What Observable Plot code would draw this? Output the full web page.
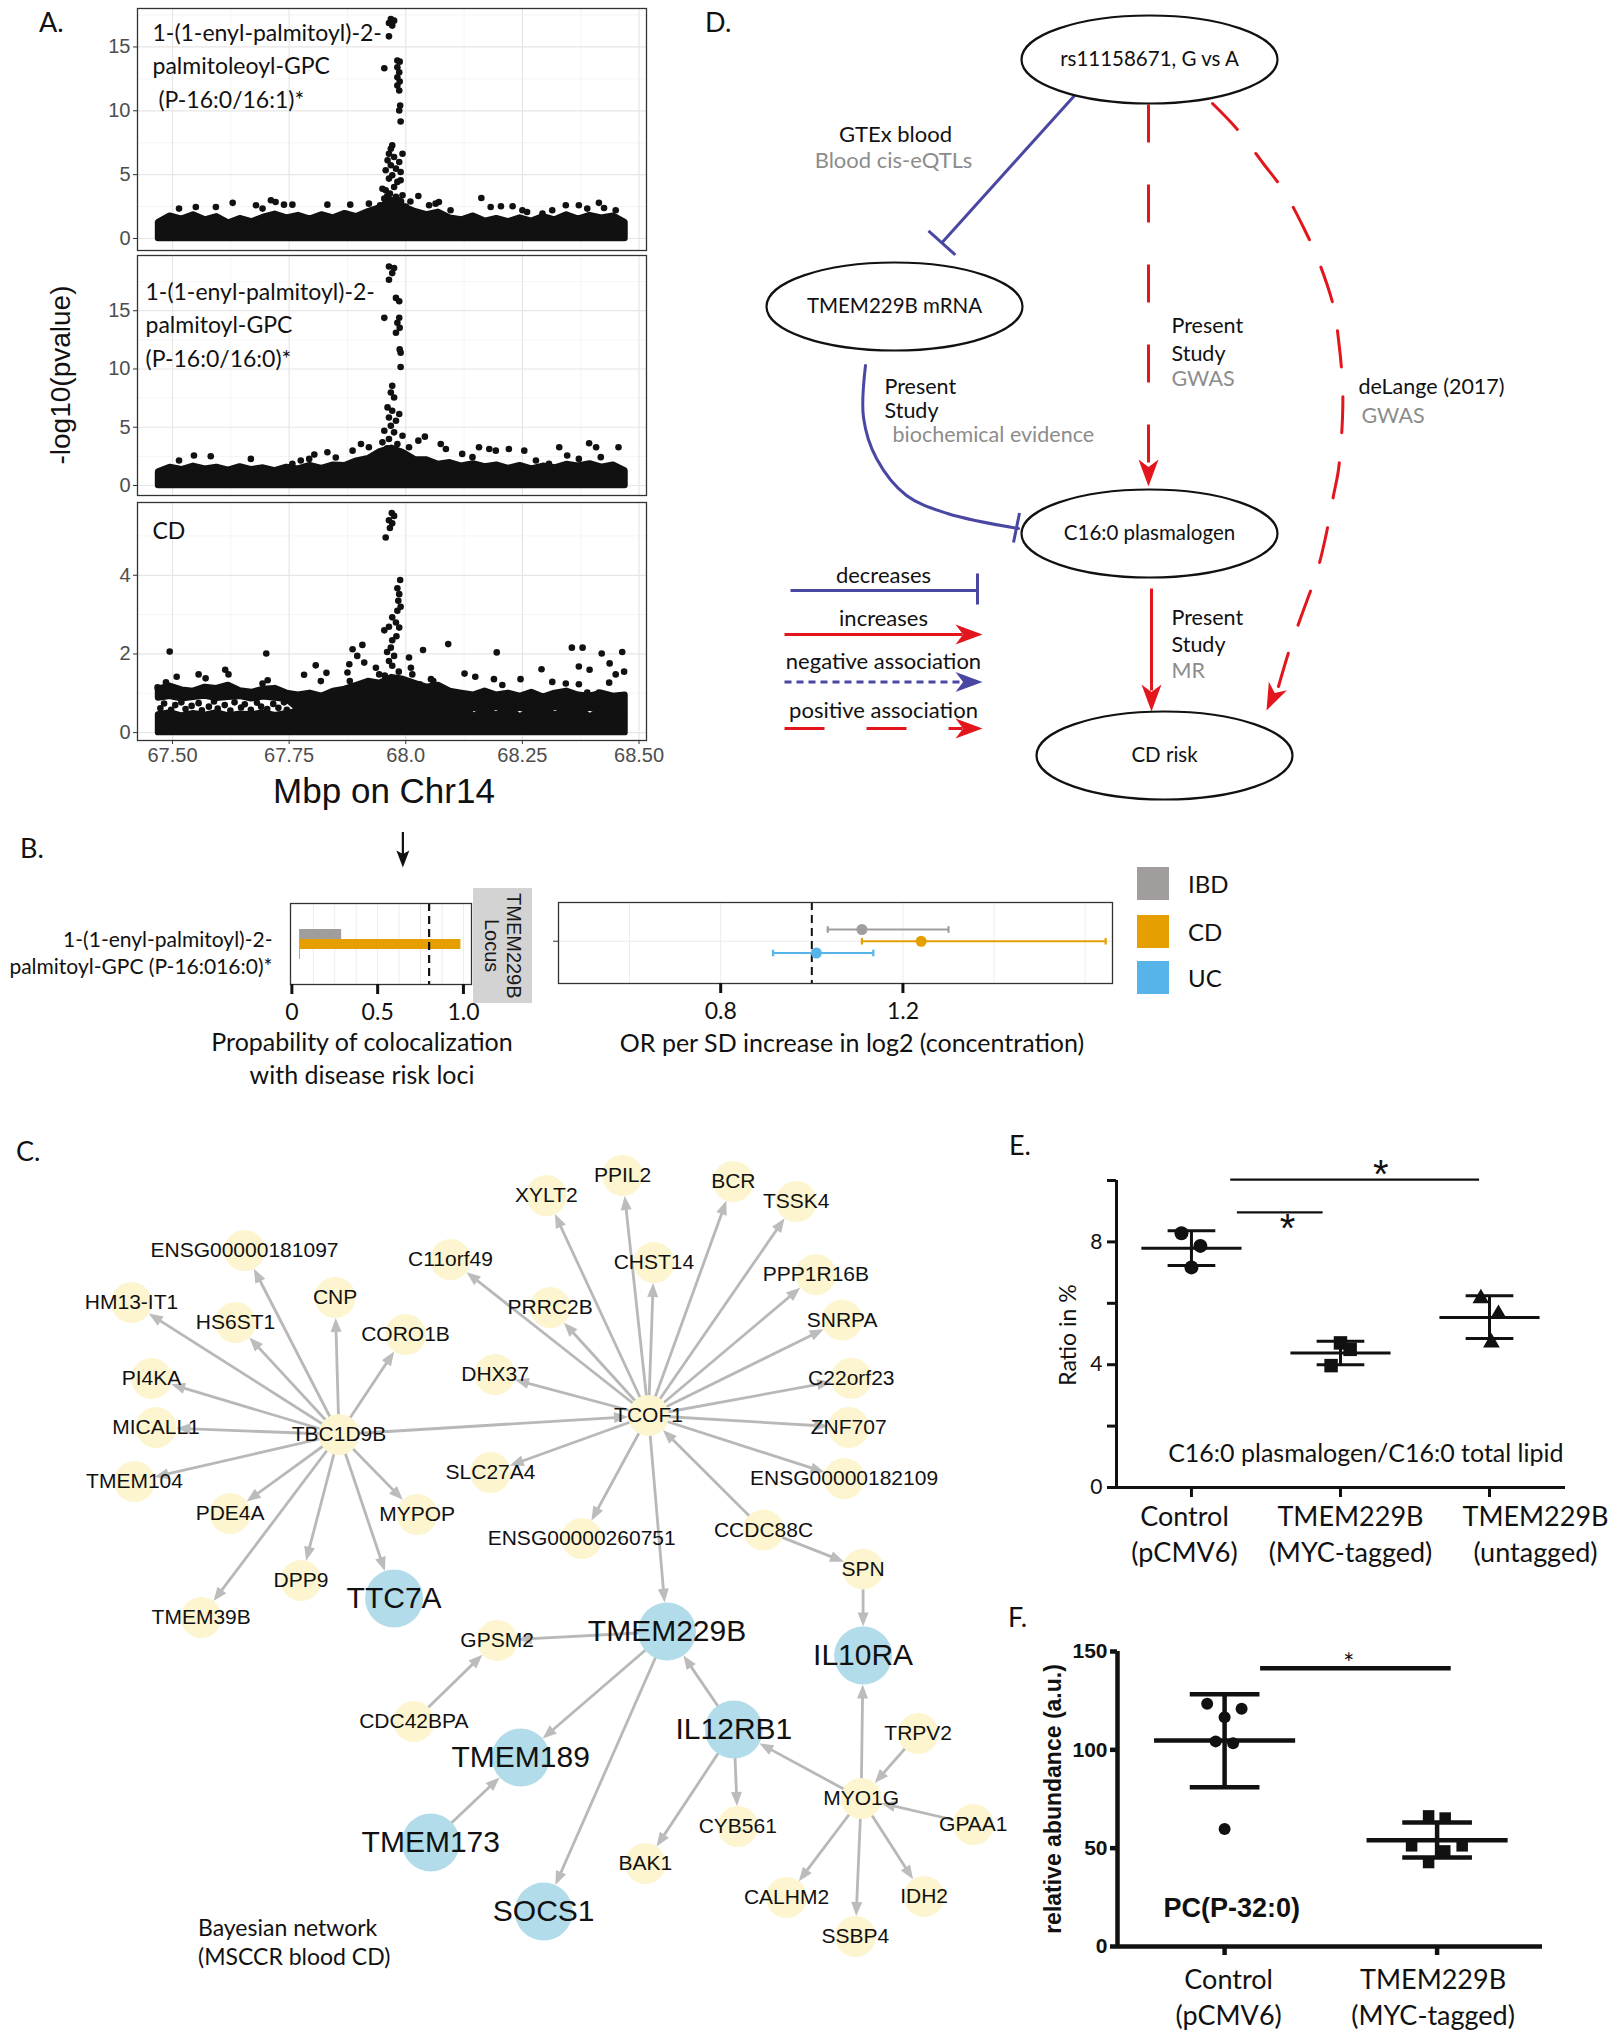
<!DOCTYPE html>
<html>
<head>
<meta charset="utf-8">
<script src="https://cdn.jsdelivr.net/npm/d3@7"></script>
<script src="https://cdn.jsdelivr.net/npm/@observablehq/plot@0.6"></script>
<style>
html, body { margin: 0; padding: 0; background: #ffffff; }
#root { position: relative; width: 1611px; height: 2040px; overflow: hidden; background: #ffffff; }
</style>
</head>
<body>
<div id="root"></div>
<script>
// ======================= DATA =======================
// ---- Panel A : -log10(p) along Chr14 ----
const aXTicks = [67.5, 67.75, 68.0, 68.25, 68.5];
const aXTickLabels = ["67.50", "67.75", "68.0", "68.25", "68.50"];
const aXMinor = [67.625, 67.875, 68.125, 68.375];
const aPanelLabels = [
  "1-(1-enyl-palmitoyl)-2-\npalmitoleoyl-GPC\n\u00a0(P-16:0/16:1)*",
  "1-(1-enyl-palmitoyl)-2-\npalmitoyl-GPC\n(P-16:0/16:0)*",
  "CD"
];
// x positions of the saturated (overplotted) band of SNPs
const aBandX = [67.470,67.495,67.520,67.545,67.570,67.595,67.620,67.645,67.670,67.695,67.720,67.745,67.770,67.795,67.820,67.845,67.870,67.895,67.920,67.945,67.970,67.995,68.020,68.045,68.070,68.095,68.120,68.145,68.170,68.195,68.220,68.245,68.270,68.295,68.320,68.345,68.370,68.395,68.420,68.445,68.470];
const aTopBand = [1.25,1.75,1.50,1.85,1.45,1.70,1.20,1.55,1.30,1.65,1.90,1.60,1.80,1.50,1.85,1.60,1.95,1.70,2.10,2.40,3.00,2.50,2.10,1.85,2.05,1.60,1.45,1.75,1.35,1.55,1.30,1.60,1.35,1.70,1.45,1.85,1.50,1.80,1.60,1.75,1.25];
const aMidBand = [1.15,1.55,1.35,1.65,1.40,1.55,1.30,1.60,1.35,1.50,1.25,1.55,1.40,1.70,1.45,1.75,1.70,2.10,2.30,2.90,3.20,2.80,2.20,2.20,1.80,1.95,1.65,1.85,1.60,1.75,1.45,1.70,1.40,1.65,1.50,1.80,1.65,1.85,1.55,1.75,1.25];
const aCdLowTop = [0.45,0.50,0.42,0.48,0.44,0.50,0.42,0.47,0.45,0.50,0.43,0.48,0.55,0.60,0.60,0.65,0.70,0.80,0.80,0.80,0.80,0.80,0.80,0.80,0.80,0.80,0.80,0.40,0.55,0.45,0.60,0.40,0.55,0.60,0.45,0.55,0.60,0.40,0.55,0.60,0.50];
const aCdUpBottom = [0.88,0.92,0.86,0.90,0.93,0.87,0.90,0.92,0.86,0.91,0.88,0.85,0.60,0.60,0.60,0.60,0.60,0.60,0.60,0.60,0.60,0.60,0.60,0.60,0.60,0.60,0.60,0.62,0.55,0.65,0.55,0.62,0.55,0.55,0.65,0.55,0.55,0.62,0.55,0.55,0.55];
const aCdUpTop = [1.10,1.18,1.08,1.05,1.15,1.12,1.20,1.06,1.02,1.10,1.12,1.00,0.95,1.00,0.92,1.05,1.10,1.20,1.30,1.25,1.40,1.35,1.25,1.15,1.20,1.05,1.00,0.95,1.05,0.95,1.00,0.92,1.02,0.90,1.00,1.05,0.95,0.92,1.00,0.92,0.95];
const aTopPts = [[67.968,17.18],[67.975,17.06],[67.964,16.87],[67.971,16.67],[67.964,15.83],[67.982,13.93],[67.987,13.85],[67.954,13.33],[67.982,13.41],[67.986,13.02],[67.982,12.62],[67.987,12.29],[67.982,11.98],[67.986,11.59],[67.988,10.42],[67.986,10.02],[67.989,9.16],[67.971,7.29],[67.968,7.03],[67.964,6.64],[67.993,6.64],[67.975,6.38],[67.961,6.12],[67.986,5.99],[67.968,5.73],[67.979,5.47],[67.957,5.34],[67.989,5.21],[67.971,4.95],[67.964,4.69],[67.982,4.43],[67.989,4.56],[67.975,4.03],[67.957,3.77],[67.966,3.51],[67.979,3.26],[67.954,3.12],[67.964,2.86],[67.975,2.60],[67.993,3.38],[68.027,3.33],[68.162,3.17],[67.629,2.79],[67.711,2.99],[67.721,2.86],[67.739,2.65],[67.757,2.65],[67.832,2.65],[67.881,2.65],[67.921,2.73],[68.182,2.47],[68.204,2.52],[68.229,2.52],[68.343,2.60],[68.371,2.60],[68.414,2.79],[68.389,2.34],[68.425,2.39],[68.096,2.21],[68.293,1.95],[68.050,2.60],[68.064,2.73],[68.071,2.86],[67.514,2.34],[67.550,2.47],[67.593,2.47],[67.679,2.60],[67.693,2.34],[68.250,2.21],[68.260,2.08],[68.314,2.21],[68.450,2.21],[67.950,3.90],[67.960,3.30],[67.985,3.00],[67.970,2.70],[67.990,2.90],[67.945,2.60],[68.000,2.50],[68.010,2.90]];
const aMidPts = [[67.964,18.80],[67.975,18.66],[67.971,18.23],[67.964,17.66],[67.979,16.10],[67.986,15.81],[67.954,14.39],[67.986,14.39],[67.982,13.96],[67.987,13.53],[67.979,13.11],[67.987,11.68],[67.989,11.40],[67.989,10.17],[67.971,8.55],[67.968,7.98],[67.975,7.55],[67.961,6.70],[67.971,6.41],[67.986,6.13],[67.964,5.84],[67.979,5.56],[67.968,5.13],[67.954,4.70],[67.975,4.56],[67.993,4.27],[67.964,3.99],[67.982,3.56],[67.950,3.70],[68.041,4.19],[68.027,3.85],[68.075,3.56],[68.086,3.13],[67.904,3.56],[67.804,2.65],[67.832,2.85],[67.850,2.40],[68.157,3.28],[68.179,3.13],[68.193,2.99],[68.221,3.13],[68.254,2.99],[68.329,3.28],[68.393,3.62],[68.408,3.28],[68.456,3.28],[68.346,2.57],[68.371,2.28],[68.418,2.43],[67.546,2.57],[67.582,2.51],[67.514,2.14],[67.668,2.28],[67.757,1.86],[67.775,2.14],[67.793,2.28],[67.886,2.99],[67.921,3.28],[68.007,3.28],[68.121,2.71],[68.143,2.43],[68.279,2.14],[68.307,1.86],[67.960,3.20],[67.990,2.90],[67.945,2.80],[67.970,2.60],[68.000,2.60]];
const aCdPts = [[67.970,5.58],[67.975,5.51],[67.964,5.40],[67.971,5.32],[67.966,5.20],[67.957,4.96],[67.988,3.88],[67.982,3.67],[67.986,3.52],[67.984,3.35],[67.989,3.20],[67.982,3.10],[67.971,2.93],[67.979,2.80],[67.986,2.67],[67.954,2.60],[67.964,2.69],[67.971,2.35],[67.968,2.16],[67.975,1.95],[67.964,1.82],[67.971,1.70],[67.980,2.45],[67.960,2.05],[67.985,1.55],[67.955,1.45],[67.907,2.23],[67.886,2.12],[67.896,1.95],[67.911,1.78],[67.879,1.74],[67.875,1.53],[67.880,1.31],[67.884,1.14],[67.877,0.98],[67.914,1.20],[67.921,0.90],[67.936,1.65],[67.943,1.48],[68.007,1.91],[68.011,1.65],[68.014,1.48],[68.037,2.10],[68.091,2.25],[68.195,2.04],[67.494,2.06],[67.701,2.01],[68.356,2.16],[68.379,2.16],[68.420,2.01],[68.464,2.05],[68.371,1.68],[68.394,1.60],[68.437,1.76],[68.450,1.48],[68.468,1.55],[67.613,1.60],[67.620,1.48],[67.556,1.48],[67.509,1.42],[67.571,1.38],[67.782,1.47],[67.807,1.71],[67.830,1.52],[67.818,1.31],[68.126,1.50],[68.149,1.42],[68.189,1.36],[68.291,1.61],[68.343,1.25],[68.314,1.29],[68.246,1.36],[68.207,1.21],[68.054,1.36],[68.059,1.31],[68.030,1.23],[68.068,1.02],[67.693,1.25],[67.704,1.33],[67.714,1.00],[67.486,1.28],[67.468,1.15],[68.436,1.27],[68.414,1.02],[68.400,0.94],[68.429,0.81],[68.371,1.23],[68.389,1.02],[67.474,0.62],[67.482,0.74],[67.497,0.58],[67.506,0.70],[67.519,0.77],[67.528,0.60],[67.541,0.68],[67.556,0.75],[67.563,0.57],[67.578,0.66],[67.589,0.79],[67.597,0.61],[67.612,0.70],[67.624,0.56],[67.633,0.77],[67.647,0.64],[67.655,0.72],[67.668,0.58],[67.681,0.76],[67.690,0.66],[67.703,0.60],[67.716,0.73],[67.727,0.63],[67.739,0.77],[67.745,0.58]];

// ---- Panel B ----
const bGroups = ["IBD", "CD", "UC"];
const bColors = ["#a19d9d", "#e69f00", "#56b4e9"];
const bColocStart = 0.045;
const bColoc = [0.29, 0.985, 0.05];
const bThreshold = 0.8;
const bOR = [1.11, 1.24, 1.01];
const bLo = [1.035, 1.11, 0.915];
const bHi = [1.30, 1.645, 1.135];
const bRowLabel = "1-(1-enyl-palmitoyl)-2-\npalmitoyl-GPC (P-16:016:0)*";
const bLeftTicks = [0, 0.5, 1.0];
const bLeftTickLabels = ["0", "0.5", "1.0"];
const bRightTicks = [0.8, 1.2];
const bRightTickLabels = ["0.8", "1.2"];

// ---- Panel C : Bayesian network (layout coordinates) ----
const cNodes = ["TBC1D9B","TCOF1","ENSG00000181097","HM13-IT1","HS6ST1","CNP","CORO1B","PI4KA","MICALL1","TMEM104","PDE4A","MYPOP","DPP9","TMEM39B","TTC7A","C11orf49","PRRC2B","XYLT2","PPIL2","CHST14","BCR","TSSK4","PPP1R16B","SNRPA","C22orf23","ZNF707","ENSG00000182109","DHX37","SLC27A4","ENSG00000260751","CCDC88C","SPN","IL10RA","TMEM229B","GPSM2","CDC42BPA","TMEM189","TMEM173","SOCS1","IL12RB1","CYB561","BAK1","MYO1G","TRPV2","GPAA1","CALHM2","SSBP4","IDH2"];
const cNodeX = [338.5,648,244,131,235,334.6,405,151,155.5,134,229.6,416.6,300.4,200.7,393.6,450,549.7,545.8,622,653.4,732.8,795.7,815.4,841.6,850.8,848.2,843.6,494.6,490,581.2,763,862.6,862.6,666.5,496.6,413.3,520.2,430.3,543.2,733.4,737.3,644.8,860.7,917.7,972.8,786,854.8,923.6];
const cNodeY = [1434,1415,1250,1302,1322,1297,1334,1378,1427,1481,1513,1514,1580,1617,1598,1259,1307,1195,1175,1262,1181,1201,1274,1319.6,1377.8,1427,1478,1374,1472,1538,1529.6,1568.6,1655,1631,1640,1721,1757,1842,1911,1729,1826,1863,1798,1733,1824,1897,1936,1896];
const cKeyGenes = ["TTC7A","IL10RA","TMEM229B","TMEM189","TMEM173","SOCS1","IL12RB1"];
const cEdges = [["TBC1D9B","ENSG00000181097"],["TBC1D9B","HM13-IT1"],["TBC1D9B","HS6ST1"],["TBC1D9B","CNP"],["TBC1D9B","CORO1B"],["TBC1D9B","PI4KA"],["TBC1D9B","MICALL1"],["TBC1D9B","TMEM104"],["TBC1D9B","PDE4A"],["TBC1D9B","MYPOP"],["TBC1D9B","DPP9"],["TBC1D9B","TMEM39B"],["TBC1D9B","TTC7A"],["TBC1D9B","TCOF1"],["TCOF1","C11orf49"],["TCOF1","PRRC2B"],["TCOF1","XYLT2"],["TCOF1","PPIL2"],["TCOF1","CHST14"],["TCOF1","BCR"],["TCOF1","TSSK4"],["TCOF1","PPP1R16B"],["TCOF1","SNRPA"],["TCOF1","C22orf23"],["TCOF1","ZNF707"],["TCOF1","ENSG00000182109"],["TCOF1","DHX37"],["TCOF1","SLC27A4"],["TCOF1","ENSG00000260751"],["TCOF1","TMEM229B"],["CCDC88C","TCOF1"],["CCDC88C","SPN"],["SPN","IL10RA"],["TMEM229B","GPSM2"],["TMEM229B","TMEM189"],["TMEM229B","SOCS1"],["IL12RB1","TMEM229B"],["CDC42BPA","GPSM2"],["TMEM173","TMEM189"],["IL12RB1","CYB561"],["IL12RB1","BAK1"],["MYO1G","IL12RB1"],["MYO1G","IL10RA"],["MYO1G","CALHM2"],["MYO1G","SSBP4"],["MYO1G","IDH2"],["TRPV2","MYO1G"],["GPAA1","MYO1G"]];

// ---- Panel D : causal diagram (layout coordinates) ----
const dNodeNames = ["rs11158671, G vs A", "TMEM229B mRNA", "C16:0 plasmalogen", "CD risk"];
const dNodeX = [1149, 894, 1149, 1164];
const dNodeY = [59, 306, 533, 755];
const dLinkX1 = [1075, 1148, 1151, 790, 784, 784, 784, 928, 1019, 977];
const dLinkY1 = [94, 104, 588, 590, 634, 681.5, 728, 230.3, 512.5, 573];
const dLinkX2 = [941.4, 1148, 1151, 977, 962, 962, 962, 954.8, 1013, 977];
const dLinkY2 = [242.3, 466, 690, 590, 634, 681.5, 728, 254.3, 542, 604];
const dLinkKind = ["blue", "red", "red", "blue", "red", "blue", "red", "blue", "blue", "blue"];
const dLinkDash = ["", "38,42", "", "", "", "7,5", "40,42", "", "", ""];
const dBlueCurve = [[865,365],[863,417],[876,458],[906,495],[947,513],[1018,528]];
const dRedCurve = [[1212,103],[1236,128],[1262,162],[1283,190],[1304,229],[1319,263],[1333,306],[1338,339],[1342,383],[1342,417],[1338,469],[1333,495],[1325,537],[1316,573],[1301,615],[1289,649],[1278,686]];
const dArrowX = [1148, 1151, 1266, 982, 982, 982];
const dArrowY = [486, 711, 710, 634, 681.5, 728];
const dArrowAngle = [90, 90, 115, 0, 0, 0];
const dArrowKind = ["red", "red", "red", "red", "blue", "red"];
const dNoteText = ["GTEx blood","Blood cis-eQTLs","Present","Study","GWAS","Present","Study","biochemical evidence","deLange (2017)","GWAS","Present","Study","MR","decreases","increases","negative association","positive association"];
const dNoteX = [895,893,1171,1171,1171,884,884,892,1358,1361,1171,1171,1171,883,883,883,883];
const dNoteY = [134,160,326,354,379,387,411,435,387,416,618,645,671,575,618,661,710];
const dNoteCentered = [1,1,0,0,0,0,0,0,0,0,0,0,0,1,1,1,1];
const dNoteGrey = [0,1,0,0,1,0,0,1,0,1,0,0,1,0,0,0,0];

// ---- Panel E ----
const eGroupLabels = ["Control\n(pCMV6)", "TMEM229B\n(MYC-tagged)", "TMEM229B\n(untagged)"];
const eValues = [[8.28, 7.87, 7.17], [4.71, 4.50, 3.97], [6.16, 5.65, 4.72]];
const eJitter = [[-0.067, 0.06, 0], [0, 0.065, -0.063], [-0.058, 0.06, 0.013]];
const eMean = [7.79, 4.38, 5.54];
const eSdLo = [7.23, 4.00, 4.85];
const eSdHi = [8.36, 4.76, 6.25];
const eYTicks = [0, 2, 4, 6, 8, 10];
const eYTickLabels = ["0", "", "4", "", "8", ""];
const eSigFrom = [0.26, 0.305];
const eSigTo = [1.93, 0.88];
const eSigY = [10.03, 8.96];
const eStarX = [1.27, 0.644];
const eStarY = [10.3, 8.53];
const eNote = "C16:0 plasmalogen/C16:0 total lipid";

// ---- Panel F ----
const fGroupLabels = ["Control\n(pCMV6)", "TMEM229B\n(MYC-tagged)"];
const fValues = [[123.4, 120.9, 116.6, 104.3, 103.4, 59.7], [66.4, 65.3, 51.2, 51.2, 48.6, 42.7]];
const fJitter = [[-0.082, 0.08, 0, -0.042, 0.04, 0], [-0.04, 0.038, -0.12, 0.118, 0.036, -0.04]];
const fMean = [104.7, 54.0];
const fSdLo = [81.0, 45.3];
const fSdHi = [128.3, 63.1];
const fYTicks = [0, 50, 100, 150];
const fSigFrom = [0.167];
const fSigTo = [1.064];
const fSigY = [141.5];
const fStarX = [0.584];
const fStarY = [147];
const fNote = "PC(P-32:0)";

// ======================= DRAWING =======================
const root = document.getElementById("root");
const INK = "#111111";
const LIB = "'Liberation Sans', Arial, Helvetica, sans-serif";
const LATO = "Lato, 'Open Sans', sans-serif";
const RED = "#e3161d";
const BLUE = "#4a47a3";
const GREY_TXT = "#8c8c8c";

function place(svg, left, top) {
  svg.style.position = "absolute";
  svg.style.left = left + "px";
  svg.style.top = top + "px";
  svg.style.maxWidth = "none";
  svg.style.overflow = "visible";
  root.appendChild(svg);
}
function label(text, x, y, o = {}) {
  const d = document.createElement("div");
  d.textContent = text;
  const ax = o.anchor === "start" ? "0" : o.anchor === "end" ? "-100%" : "-50%";
  d.style.cssText = `position:absolute;left:${x}px;top:${y}px;white-space:pre;line-height:${o.lh || 1.2};` +
    `font-family:${o.family || LATO};font-size:${o.size || 22}px;font-weight:${o.weight || 400};color:${o.color || INK};` +
    `text-align:${o.align || "center"};transform:translate(${ax},-50%)${o.rotate ? ` rotate(${o.rotate}deg)` : ""};`;
  root.appendChild(d);
  return d;
}
const base = (o) => Object.assign({style: {background: "transparent", overflow: "visible", fontFamily: LIB}}, o);
const arrowSym = (L, W, notch) => ({draw(ctx) {
  ctx.moveTo(0, 0); ctx.lineTo(-L, -W / 2); ctx.lineTo(-L * (1 - notch), 0); ctx.lineTo(-L, W / 2); ctx.closePath();
}});
const ellipseSym = (rx, ry) => ({draw(ctx) {
  const k = 0.5523;
  ctx.moveTo(rx, 0);
  ctx.bezierCurveTo(rx, ry * k, rx * k, ry, 0, ry);
  ctx.bezierCurveTo(-rx * k, ry, -rx, ry * k, -rx, 0);
  ctx.bezierCurveTo(-rx, -ry * k, -rx * k, -ry, 0, -ry);
  ctx.bezierCurveTo(rx * k, -ry, rx, -ry * k, rx, 0);
  ctx.closePath();
}});

// ---------------- Panel A ----------------
const band = (lo, hi) => aBandX.map((x, i) => ({x, lo: Array.isArray(lo) ? lo[i] : lo, hi: hi[i]}));
function manhattan(cfg) {
  const marks = [
    Plot.gridX(aXMinor, {stroke: "#f3f3f3", strokeOpacity: 1, strokeWidth: 0.8}),
    Plot.gridY(cfg.yMinor, {stroke: "#f3f3f3", strokeOpacity: 1, strokeWidth: 0.8}),
    Plot.gridX(aXTicks, {stroke: "#e6e6e6", strokeOpacity: 1, strokeWidth: 1.2}),
    Plot.gridY(cfg.yTicks, {stroke: "#e6e6e6", strokeOpacity: 1, strokeWidth: 1.2})
  ];
  for (const b of cfg.bands) marks.push(Plot.area(b, {x1: "x", y1: "lo", y2: "hi", fill: INK, stroke: INK, strokeWidth: 6.4, strokeLinejoin: "round"}));
  marks.push(Plot.dot(cfg.pts, {x: d => d[0], y: d => d[1], r: 3.3, fill: INK, stroke: "none"}));
  marks.push(Plot.frame({stroke: "#333", strokeWidth: 1.3}));
  marks.push(Plot.axisY(cfg.yTicks, {label: null, tickSize: 4, tickPadding: 3, fontSize: 20, fontFamily: LIB, fill: "#4d4d4d", stroke: "#333"}));
  if (cfg.showX) marks.push(Plot.axisX(aXTicks, {label: null, tickSize: 4, tickPadding: 3, fontSize: 20, fontFamily: LIB, fill: "#4d4d4d", stroke: "#333", tickFormat: d => aXTickLabels[aXTicks.indexOf(d)]}));
  marks.push(Plot.text([cfg.label], {text: d => d, frameAnchor: "top-left", textAnchor: "start", lineAnchor: "top", dx: cfg.dx, dy: cfg.dy, lineHeight: 1.47, fontSize: 23, fontFamily: LATO, fill: INK}));
  const svg = Plot.plot(base({
    width: 660, height: cfg.height, marginLeft: 137, marginRight: 14, marginTop: cfg.mT, marginBottom: cfg.mB,
    x: {domain: [67.425, 68.516], axis: null},
    y: {domain: cfg.yDomain, axis: null},
    marks
  }));
  place(svg, 0, cfg.top);
}
manhattan({top: 0, height: 252, mT: 8, mB: 2, yDomain: [-0.94, 18.01], yTicks: [0, 5, 10, 15], yMinor: [2.5, 7.5, 12.5, 17.5],
  bands: [band(0, aTopBand)], pts: aTopPts, label: aPanelLabels[0], dx: 15, dy: 8});
manhattan({top: 246, height: 252, mT: 9, mB: 3, yDomain: [-0.86, 19.74], yTicks: [0, 5, 10, 15], yMinor: [2.5, 7.5, 12.5, 17.5],
  bands: [band(0, aMidBand)], pts: aMidPts, label: aPanelLabels[1], dx: 8, dy: 20});
manhattan({top: 494, height: 280, mT: 8, mB: 34, yDomain: [-0.2, 5.85], yTicks: [0, 2, 4], yMinor: [1, 3, 5],
  bands: [band(0, aCdLowTop), band(aCdUpBottom, aCdUpTop)], pts: aCdPts, label: aPanelLabels[2], dx: 15, dy: 12, showX: true});
label("Mbp on Chr14", 384, 791, {family: LIB, size: 35});
label("-log10(pvalue)", 61, 375, {family: LIB, size: 28, rotate: -90});

// ---------------- Panel B ----------------
{
  const rows = bGroups.map((g, i) => ({g, v: bColoc[i], c: bColors[i]}));
  const svg = Plot.plot(base({
    width: 540, height: 210, marginLeft: 290, marginRight: 69, marginTop: 83, marginBottom: 46,
    x: {domain: [-0.008, 1.047], axis: null},
    y: {type: "band", domain: bGroups, range: [107.6, 140.4], padding: 0, axis: null},
    color: {type: "identity"},
    marks: [
      Plot.gridX([0.125, 0.25, 0.375, 0.5, 0.625, 0.75, 0.875, 1.0], {stroke: "#ececec", strokeOpacity: 1}),
      Plot.barX(rows, {x1: () => bColocStart, x2: "v", y: "g", fill: "c", inset: 0}),
      Plot.ruleX([bThreshold], {stroke: INK, strokeWidth: 2.2, strokeDasharray: "8,5"}),
      Plot.frame({stroke: "#333", strokeWidth: 1.3}),
      Plot.axisX(bLeftTicks, {label: null, tickSize: 10, strokeWidth: 3, stroke: INK, fill: INK, tickPadding: 9, fontSize: 23, fontFamily: LATO, tickFormat: d => bLeftTickLabels[bLeftTicks.indexOf(d)]}),
      Plot.text([bRowLabel], {text: d => d, frameAnchor: "left", textAnchor: "end", dx: -18, dy: 8, lineHeight: 1.3, fontSize: 21, fontFamily: LATO, fill: INK}),
      Plot.ruleX([0.647], {stroke: INK, strokeWidth: 2.2, insetBottom: 57, dy: -71}),
      Plot.dot([0.647], {x: d => d, frameAnchor: "top", dy: -36, symbol: arrowSym(17, 13, 0.2), rotate: 90, fill: INK, stroke: "none"})
    ]
  }));
  place(svg, 0, 820);
}
{
  const rows = bGroups.map((g, i) => ({i, or: bOR[i], lo: bLo[i], hi: bHi[i], c: bColors[i]}));
  const svg = Plot.plot(base({
    width: 610, height: 150, marginLeft: 18, marginRight: 38, marginTop: 22, marginBottom: 47,
    x: {domain: [0.444, 1.66], axis: null},
    y: {domain: [-2.298, 4.596], range: [22, 103], axis: null},
    color: {type: "identity"},
    marks: [
      Plot.gridX([0.6, 0.8, 1.0, 1.2, 1.4, 1.6], {stroke: "#ececec", strokeOpacity: 1}),
      Plot.ruleY([1], {stroke: "#ececec"}),
      Plot.ruleX([1.0], {stroke: INK, strokeWidth: 2, strokeDasharray: "8,5"}),
      Plot.link(rows, {x1: "lo", x2: "hi", y1: "i", y2: "i", stroke: "c", strokeWidth: 2.2}),
      Plot.link(rows, {x1: "lo", x2: "lo", y1: d => d.i - 0.28, y2: d => d.i + 0.28, stroke: "c", strokeWidth: 2.2}),
      Plot.link(rows, {x1: "hi", x2: "hi", y1: d => d.i - 0.28, y2: d => d.i + 0.28, stroke: "c", strokeWidth: 2.2}),
      Plot.dot(rows, {x: "or", y: "i", r: 5.5, fill: "c", stroke: "none"}),
      Plot.frame({stroke: "#333", strokeWidth: 1.3}),
      Plot.axisX(bRightTicks, {label: null, tickSize: 10, strokeWidth: 3, stroke: INK, fill: INK, tickPadding: 9, fontSize: 23, fontFamily: LATO, tickFormat: d => bRightTickLabels[bRightTicks.indexOf(d)]}),
      Plot.axisY([1], {label: null, tickSize: 5, stroke: "#333", tickFormat: () => ""})
    ]
  }));
  place(svg, 540, 880);
}
label("Propability of colocalization\nwith disease risk loci", 362, 1058, {size: 25, lh: 1.32});
label("OR per SD increase in log2 (concentration)", 852, 1042, {size: 25});
{
  const strip = document.createElement("div");
  strip.style.cssText = "position:absolute;left:473px;top:888px;width:59px;height:115px;background:#d3d3d3;display:flex;align-items:center;justify-content:center;";
  const t = document.createElement("div");
  t.style.cssText = `writing-mode:vertical-rl;font-family:${LIB};font-size:20px;line-height:1.1;text-align:center;color:#1a1a1a;`;
  t.innerHTML = "TMEM229B<br>Locus";
  strip.appendChild(t);
  root.appendChild(strip);
  const tops = [867, 915, 961];
  bGroups.forEach((g, i) => {
    const sw = document.createElement("div");
    sw.style.cssText = `position:absolute;left:1137px;top:${tops[i]}px;width:32px;height:33px;background:${bColors[i]};`;
    root.appendChild(sw);
    label(g, 1188, tops[i] + 17, {anchor: "start", size: 24});
  });
}

// ---------------- Panel C ----------------
{
  const pos = new Map(cNodes.map((n, i) => [n, {name: n, x: cNodeX[i], y: cNodeY[i], big: cKeyGenes.includes(n)}]));
  const nodes = [...pos.values()];
  const rad = n => n.big ? 29 : 20.5;
  const edges = cEdges.map(([s, t]) => {
    const a = pos.get(s), b = pos.get(t);
    const dx = b.x - a.x, dy = b.y - a.y, L = Math.hypot(dx, dy), ux = dx / L, uy = dy / L;
    const tipX = b.x - ux * rad(b), tipY = b.y - uy * rad(b);
    return {x1: a.x, y1: a.y, x2: tipX - ux * 9, y2: tipY - uy * 9, tipX, tipY, angle: Math.atan2(dy, dx) * 180 / Math.PI};
  });
  const svg = Plot.plot(base({
    width: 1030, height: 940, margin: 0,
    x: {domain: [0, 1030], range: [0, 1030], axis: null},
    y: {domain: [1100, 2040], range: [0, 940], axis: null},
    marks: [
      Plot.link(edges, {x1: "x1", y1: "y1", x2: "x2", y2: "y2", stroke: "#b8b8b8", strokeWidth: 2.8}),
      Plot.dot(edges, {x: "tipX", y: "tipY", rotate: "angle", symbol: arrowSym(14, 11, 0), fill: "#bcbcbc", stroke: "none"}),
      Plot.dot(nodes.filter(n => !n.big), {x: "x", y: "y", r: 20.5, fill: "#fcf5cf", stroke: "none"}),
      Plot.dot(nodes.filter(n => n.big), {x: "x", y: "y", r: 29, fill: "#b3dcea", stroke: "none"}),
      Plot.text(nodes.filter(n => !n.big), {x: "x", y: "y", text: "name", fontSize: 21, fontFamily: LIB, fill: INK}),
      Plot.text(nodes.filter(n => n.big), {x: "x", y: "y", text: "name", fontSize: 30, fontFamily: LIB, fill: INK})
    ]
  }));
  place(svg, 0, 1100);
  label("Bayesian network\n(MSCCR blood CD)", 198, 1942, {anchor: "start", align: "left", size: 23, lh: 1.28});
}

// ---------------- Panel D ----------------
{
  const col = k => k === "red" ? RED : BLUE;
  const nodes = dNodeNames.map((n, i) => ({n, x: dNodeX[i], y: dNodeY[i]}));
  const arrows = dArrowX.map((x, i) => ({x, y: dArrowY[i], a: dArrowAngle[i], c: col(dArrowKind[i])}));
  const notes = dNoteText.map((t, i) => ({t, x: dNoteX[i], y: dNoteY[i], c: dNoteCentered[i], g: dNoteGrey[i] ? GREY_TXT : INK}));
  const links = dLinkX1.map((x1, i) => Plot.link([{x1, y1: dLinkY1[i], x2: dLinkX2[i], y2: dLinkY2[i]}],
    {x1: "x1", y1: "y1", x2: "x2", y2: "y2", stroke: col(dLinkKind[i]), strokeWidth: 3, strokeDasharray: dLinkDash[i] || null}));
  const svg = Plot.plot(base({
    width: 921, height: 820, margin: 0,
    x: {domain: [690, 1611], range: [0, 921], axis: null},
    y: {domain: [0, 820], range: [0, 820], axis: null},
    color: {type: "identity"},
    marks: [
      ...links,
      Plot.line(dBlueCurve, {x: d => d[0], y: d => d[1], curve: "catmull-rom", stroke: BLUE, strokeWidth: 3}),
      Plot.line(dRedCurve, {x: d => d[0], y: d => d[1], curve: "catmull-rom", stroke: RED, strokeWidth: 3, strokeDasharray: "36,30"}),
      Plot.dot(arrows, {x: "x", y: "y", rotate: "a", symbol: arrowSym(27, 20, 0.28), fill: "c", stroke: "none"}),
      Plot.dot(nodes, {x: "x", y: "y", symbol: ellipseSym(128, 44), fill: "white", stroke: INK, strokeWidth: 2.2}),
      Plot.text(nodes, {x: "x", y: "y", text: "n", fontSize: 20.5, fontFamily: LATO, fill: INK}),
      Plot.text(notes.filter(d => d.c), {x: "x", y: "y", text: "t", fill: "g", fontSize: 22, fontFamily: LATO, textAnchor: "middle"}),
      Plot.text(notes.filter(d => !d.c), {x: "x", y: "y", text: "t", fill: "g", fontSize: 21.5, fontFamily: LATO, textAnchor: "start"})
    ]
  }));
  place(svg, 690, 0);
}

// ---------------- Panel E ----------------
{
  const pts = [];
  eValues.forEach((vals, g) => vals.forEach((v, k) => pts.push({g, x: g + eJitter[g][k], y: v})));
  const stats = eMean.map((m, g) => ({g, m, lo: eSdLo[g], hi: eSdHi[g]}));
  const sig = eSigFrom.map((a, i) => ({a, b: eSigTo[i], y: eSigY[i], sx: eStarX[i], sy: eStarY[i]}));
  const lineOpts = {stroke: INK, strokeWidth: 3};
  const labelShift = [-7, 10, 46];
  const svg = Plot.plot(base({
    width: 611, height: 450, marginLeft: 116, marginRight: 46, marginTop: 50, marginBottom: 93,
    x: {domain: [-0.503, 2.51], axis: null},
    y: {domain: [0, 10], axis: null},
    marks: [
      Plot.ruleX([-0.503], lineOpts),
      Plot.ruleY([0], lineOpts),
      Plot.axisY(eYTicks, {label: null, tickSize: 9, tickPadding: 5, strokeWidth: 3, stroke: INK, fill: INK, fontSize: 21, fontFamily: LATO, tickFormat: d => eYTickLabels[eYTicks.indexOf(d)]}),
      Plot.axisX([0, 1, 2], {label: null, tickSize: 10, strokeWidth: 3, stroke: INK, tickFormat: () => ""}),
      Plot.link(stats, {x1: d => d.g - 0.336, x2: d => d.g + 0.336, y1: "m", y2: "m", ...lineOpts}),
      Plot.link(stats, {x1: d => d.g - 0.16, x2: d => d.g + 0.16, y1: "lo", y2: "lo", ...lineOpts}),
      Plot.link(stats, {x1: d => d.g - 0.16, x2: d => d.g + 0.16, y1: "hi", y2: "hi", ...lineOpts}),
      Plot.link(stats, {x1: "g", x2: "g", y1: "lo", y2: "hi", ...lineOpts}),
      Plot.dot(pts.filter(d => d.g === 0), {x: "x", y: "y", r: 7, symbol: "circle", fill: INK, stroke: "none"}),
      Plot.dot(pts.filter(d => d.g === 1), {x: "x", y: "y", r: 7.6, symbol: "square", fill: INK, stroke: "none"}),
      Plot.dot(pts.filter(d => d.g === 2), {x: "x", y: "y", r: 6.2, symbol: "triangle", fill: INK, stroke: "none"}),
      Plot.link(sig, {x1: "a", x2: "b", y1: "y", y2: "y", stroke: INK, strokeWidth: 2.2}),
      Plot.text(sig, {x: "sx", y: "sy", text: () => "*", fontSize: 40, fontFamily: LIB, fill: INK, dy: 4}),
      Plot.text([eNote], {text: d => d, frameAnchor: "bottom-right", textAnchor: "end", dx: -2, dy: -26, fontSize: 25, fontFamily: LATO, fill: INK}),
      ...eGroupLabels.map((t, i) => Plot.text([t], {x: () => i, text: d => d, frameAnchor: "bottom", lineAnchor: "top", dy: 13, dx: labelShift[i], lineHeight: 1.34, fontSize: 27, fontFamily: LATO, fill: INK}))
    ]
  }));
  place(svg, 1000, 1130);
  label("Ratio in %", 1068, 1335, {size: 23, rotate: -90});
}

// ---------------- Panel F ----------------
{
  const pts = [];
  fValues.forEach((vals, g) => vals.forEach((v, k) => pts.push({g, x: g + fJitter[g][k], y: v})));
  const stats = fMean.map((m, g) => ({g, m, lo: fSdLo[g], hi: fSdHi[g]}));
  const sig = fSigFrom.map((a, i) => ({a, b: fSigTo[i], y: fSigY[i], sx: fStarX[i], sy: fStarY[i]}));
  const lineOpts = {stroke: INK, strokeWidth: 4.5};
  const labelShift = [4, -4];
  const svg = Plot.plot(base({
    width: 611, height: 450, marginLeft: 117, marginRight: 69, marginTop: 61, marginBottom: 94,
    x: {domain: [-0.504, 1.496], axis: null},
    y: {domain: [0, 150], axis: null},
    marks: [
      Plot.ruleX([-0.504], lineOpts),
      Plot.ruleY([0], lineOpts),
      Plot.axisY(fYTicks, {label: null, tickSize: 7, tickPadding: 3, strokeWidth: 4.5, stroke: INK, fill: INK, fontSize: 21, fontWeight: "bold", fontFamily: LIB}),
      Plot.axisX([0, 1], {label: null, tickSize: 9, strokeWidth: 4.5, stroke: INK, tickFormat: () => ""}),
      Plot.link(stats, {x1: d => d.g - 0.332, x2: d => d.g + 0.332, y1: "m", y2: "m", ...lineOpts}),
      Plot.link(stats, {x1: d => d.g - 0.164, x2: d => d.g + 0.164, y1: "lo", y2: "lo", ...lineOpts}),
      Plot.link(stats, {x1: d => d.g - 0.164, x2: d => d.g + 0.164, y1: "hi", y2: "hi", ...lineOpts}),
      Plot.link(stats, {x1: "g", x2: "g", y1: "lo", y2: "hi", ...lineOpts}),
      Plot.dot(pts.filter(d => d.g === 0), {x: "x", y: "y", r: 6, symbol: "circle", fill: INK, stroke: "none"}),
      Plot.dot(pts.filter(d => d.g === 1), {x: "x", y: "y", r: 6.5, symbol: "square", fill: INK, stroke: "none"}),
      Plot.link(sig, {x1: "a", x2: "b", y1: "y", y2: "y", stroke: INK, strokeWidth: 4.5}),
      Plot.text(sig, {x: "sx", y: "sy", text: () => "*", fontSize: 26, fontFamily: LATO, fill: INK, dy: 7}),
      Plot.text([fNote], {text: d => d, frameAnchor: "bottom-left", textAnchor: "start", dx: 46, dy: -30, fontSize: 27, fontWeight: "bold", fontFamily: LIB, fill: INK}),
      ...fGroupLabels.map((t, i) => Plot.text([t], {x: () => i, text: d => d, frameAnchor: "bottom", lineAnchor: "top", dy: 18, dx: labelShift[i], lineHeight: 1.3, fontSize: 27, fontFamily: LATO, fill: INK}))
    ]
  }));
  place(svg, 1000, 1590);
  label("relative abundance (a.u.)", 1054, 1799, {family: LIB, size: 23, weight: 700, rotate: -90});
}

// ---------------- panel letters ----------------
[["A.", 39, 22], ["B.", 20, 848], ["C.", 16, 1151], ["D.", 705, 22], ["E.", 1009, 1145], ["F.", 1008, 1617]]
  .forEach(([t, x, y]) => label(t, x, y, {anchor: "start", size: 27}));
</script>
</body>
</html>
